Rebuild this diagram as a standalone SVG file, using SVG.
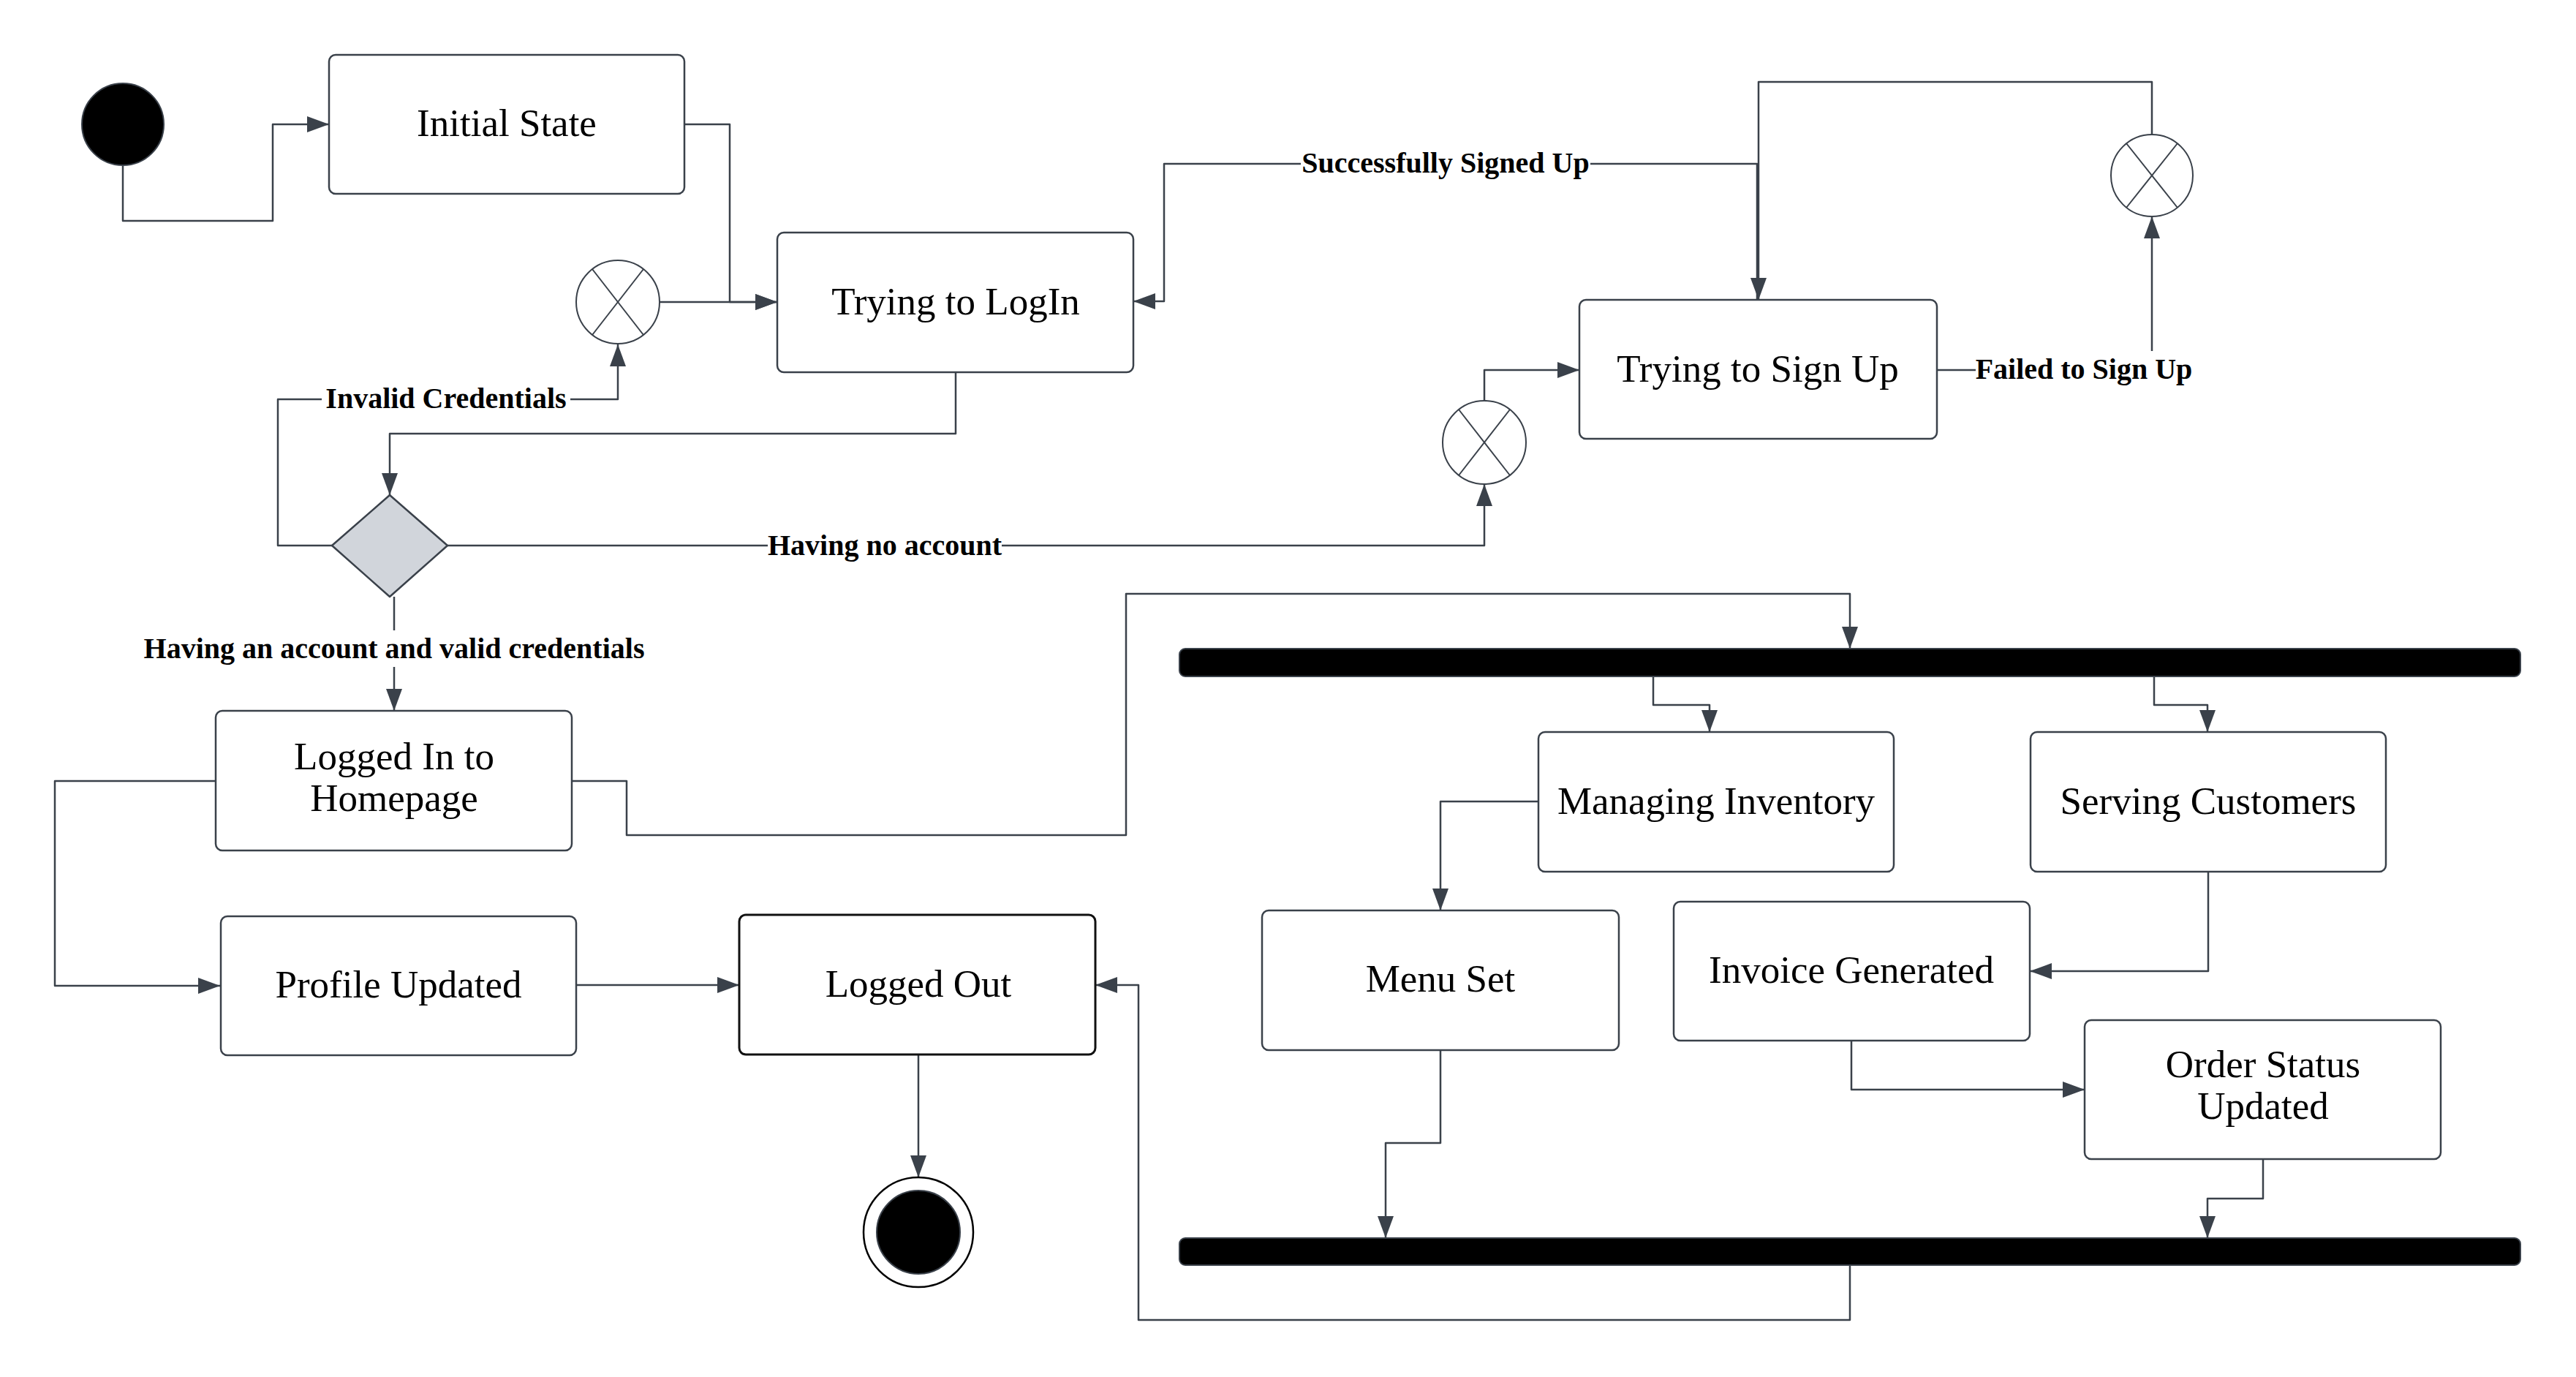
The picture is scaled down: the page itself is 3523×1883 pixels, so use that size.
<svg xmlns="http://www.w3.org/2000/svg" width="3523" height="1883" viewBox="0 0 3523 1883">
<style>
.node{fill:#fff;stroke:#3a414a;stroke-width:2.5}
.nt{font-family:"Liberation Serif",serif;font-size:53px;fill:#000;text-anchor:middle}
.lbl{font-family:"Liberation Serif",serif;font-size:40px;font-weight:bold;fill:#000;text-anchor:middle}
.lbg{fill:#fff}
.c{fill:none;stroke:#3a414a;stroke-width:2.5;stroke-linejoin:round}
.xl{stroke:#3a414a;stroke-width:2}
.bar{fill:#000;stroke:#3a414a;stroke-width:2}
</style>
<defs>
<marker id="ah" markerUnits="userSpaceOnUse" markerWidth="30" markerHeight="22" refX="30" refY="11" orient="auto">
<path d="M0 0 L30 11 L0 22 Z" fill="#3a414a"/>
</marker>
</defs>
<rect width="3523" height="1883" fill="#fff"/>
<g id="connectors">
<path class="c" d="M168 226 V302 H373 V170 H450" marker-end="url(#ah)"/>
<path class="c" d="M936 170 H998 V413 H1063" marker-end="url(#ah)"/>
<path class="c" d="M901 413 H1063" marker-end="url(#ah)"/>
<path class="c" d="M1307 509 V593 H533 V677" marker-end="url(#ah)"/>
<path class="c" d="M454 746 H380 V546 H845 V471" marker-end="url(#ah)"/>
<path class="c" d="M612 746 H2030 V662" marker-end="url(#ah)"/>
<path class="c" d="M2030 548 V506 H2160" marker-end="url(#ah)"/>
<path class="c" d="M2403 410 V224 H1592 V412 H1550" marker-end="url(#ah)"/>
<path class="c" d="M2649 506 H2943 V296" marker-end="url(#ah)"/>
<path class="c" d="M2943 184 V112 H2405 V410" marker-end="url(#ah)"/>
<path class="c" d="M539 816 V972" marker-end="url(#ah)"/>
<path class="c" d="M295 1068 H75 V1348 H301" marker-end="url(#ah)"/>
<path class="c" d="M782 1068 H857 V1142 H1540 V812 H2530 V887" marker-end="url(#ah)"/>
<path class="c" d="M788 1347 H1011" marker-end="url(#ah)"/>
<path class="c" d="M1256 1442 V1610" marker-end="url(#ah)"/>
<path class="c" d="M2261 925 V964 H2338 V1001" marker-end="url(#ah)"/>
<path class="c" d="M2946 925 V964 H3019 V1001" marker-end="url(#ah)"/>
<path class="c" d="M2104 1096 H1970 V1245" marker-end="url(#ah)"/>
<path class="c" d="M1970 1436 V1563 H1895 V1693" marker-end="url(#ah)"/>
<path class="c" d="M3020 1192 V1328 H2776" marker-end="url(#ah)"/>
<path class="c" d="M2532 1423 V1490 H2851" marker-end="url(#ah)"/>
<path class="c" d="M3095 1585 V1639 H3019 V1693" marker-end="url(#ah)"/>
<path class="c" d="M2530 1730 V1805 H1557 V1347 H1498" marker-end="url(#ah)"/>
<rect class="lbg" x="440" y="520" width="340" height="50"/>
<text class="lbl" x="610" y="558">Invalid Credentials</text>
<rect class="lbg" x="1779" y="200" width="396" height="50"/>
<text class="lbl" x="1977" y="236">Successfully Signed Up</text>
<rect class="lbg" x="1050" y="720" width="320" height="50"/>
<text class="lbl" x="1210" y="759">Having no account</text>
<rect class="lbg" x="195" y="862" width="688" height="50"/>
<text class="lbl" x="539" y="900">Having an account and valid credentials</text>
<rect class="lbg" x="2702" y="480" width="296" height="50"/>
<text class="lbl" x="2850" y="518">Failed to Sign Up</text>
</g>
<g id="start"><circle cx="168" cy="170" r="56" fill="#000" stroke="#3a414a" stroke-width="2"/></g>
<g id="initial-state"><rect class="node" x="450" y="75" width="486" height="190" rx="9"/><text class="nt" x="693" y="186">Initial State</text></g>
<g id="merge1"><circle cx="845" cy="413" r="57" fill="#fff" stroke="#3a414a" stroke-width="2"/><line class="xl" x1="810" y1="368" x2="880" y2="458"/><line class="xl" x1="880" y1="368" x2="810" y2="458"/></g>
<g id="trying-login"><rect class="node" x="1063" y="318" width="487" height="191" rx="9"/><text class="nt" x="1307" y="430">Trying to LogIn</text></g>
<g id="decision"><path d="M533 677 L612 746 L533 816 L454 746 Z" fill="#d1d5db" stroke="#3a414a" stroke-width="2.5" stroke-linejoin="round"/></g>
<g id="merge2"><circle cx="2030" cy="605" r="57" fill="#fff" stroke="#3a414a" stroke-width="2"/><line class="xl" x1="1995" y1="560" x2="2065" y2="650"/><line class="xl" x1="2065" y1="560" x2="1995" y2="650"/></g>
<g id="trying-signup"><rect class="node" x="2160" y="410" width="489" height="190" rx="9"/><text class="nt" x="2404" y="522">Trying to Sign Up</text></g>
<g id="merge3"><circle cx="2943" cy="240" r="56" fill="#fff" stroke="#3a414a" stroke-width="2"/><line class="xl" x1="2908" y1="196" x2="2978" y2="284"/><line class="xl" x1="2978" y1="196" x2="2908" y2="284"/></g>
<g id="logged-in"><rect class="node" x="295" y="972" width="487" height="191" rx="9"/><text class="nt" x="539" y="1052">Logged In to</text><text class="nt" x="539" y="1109">Homepage</text></g>
<g id="profile-updated"><rect class="node" x="302" y="1253" width="486" height="190" rx="9"/><text class="nt" x="545" y="1364">Profile Updated</text></g>
<g id="logged-out"><rect x="1011" y="1251" width="487" height="191" rx="9" fill="#fff" stroke="#111" stroke-width="3"/><text class="nt" x="1256" y="1363">Logged Out</text></g>
<g id="end"><circle cx="1256" cy="1685" r="75" fill="#fff" stroke="#000" stroke-width="2.5"/><circle cx="1256" cy="1685" r="57" fill="#000" stroke="#3a414a" stroke-width="2"/></g>
<g id="fork"><rect class="bar" x="1613" y="887" width="1834" height="38" rx="8"/></g>
<g id="managing-inventory"><rect class="node" x="2104" y="1001" width="486" height="191" rx="9"/><text class="nt" x="2347" y="1113">Managing Inventory</text></g>
<g id="serving-customers"><rect class="node" x="2777" y="1001" width="486" height="191" rx="9"/><text class="nt" x="3020" y="1113">Serving Customers</text></g>
<g id="menu-set"><rect class="node" x="1726" y="1245" width="488" height="191" rx="9"/><text class="nt" x="1970" y="1356">Menu Set</text></g>
<g id="invoice-generated"><rect class="node" x="2289" y="1233" width="487" height="190" rx="9"/><text class="nt" x="2532" y="1344">Invoice Generated</text></g>
<g id="order-status"><rect class="node" x="2851" y="1395" width="487" height="190" rx="9"/><text class="nt" x="3095" y="1473">Order Status</text><text class="nt" x="3095" y="1530">Updated</text></g>
<g id="join"><rect class="bar" x="1613" y="1693" width="1834" height="37" rx="8"/></g>
</svg>
